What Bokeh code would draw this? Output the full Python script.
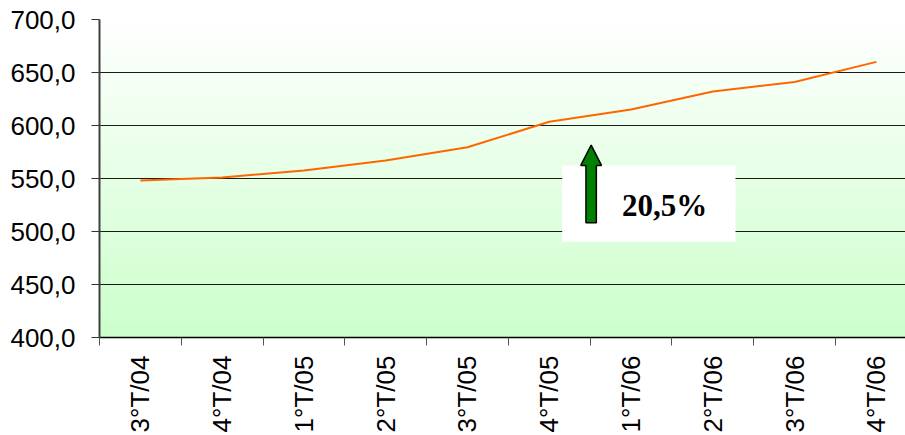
import math
import numpy as np
from bokeh.plotting import figure
from bokeh.models import Range1d, FixedTicker, ColumnDataSource
from bokeh.core.properties import value
from bokeh.embed import file_html
from bokeh.resources import INLINE

# ---- data ----
categories = ["3°T/04", "4°T/04", "1°T/05", "2°T/05", "3°T/05",
              "4°T/05", "1°T/06", "2°T/06", "3°T/06", "4°T/06"]
series_values = [548.0, 551.0, 557.5, 567.0, 579.5, 603.5, 615.0, 632.0, 641.0, 660.0]
y_ticks = [400, 450, 500, 550, 600, 650, 700]
y_tick_labels = ["400,0", "450,0", "500,0", "550,0", "600,0", "650,0", "700,0"]
growth_label = "20,5%"

x_pos = list(range(len(categories)))
src = ColumnDataSource(data=dict(x=x_pos, y=series_values, cat=categories))

p = figure(width=905, height=435, output_backend="svg", toolbar_location=None,
           x_range=Range1d(-0.5, 9.356), y_range=Range1d(400, 700),
           min_border_left=99, min_border_right=0, min_border_top=19,
           min_border_bottom=97)
p.outline_line_color = None
p.background_fill_color = "white"
p.border_fill_color = "white"

# gradient background (white at top -> light green at bottom)
n = 300
t = np.linspace(0.0, 1.0, n)  # 0 bottom, 1 top
rgba = np.zeros((n, 1, 4), dtype=np.uint8)
rgba[:, 0, 0] = (204 + (255 - 204) * t).astype(np.uint8)
rgba[:, 0, 1] = 255
rgba[:, 0, 2] = (204 + (255 - 204) * t).astype(np.uint8)
rgba[:, 0, 3] = 255
img = rgba.view(dtype=np.uint32).reshape((n, 1))
r_img = p.image_rgba(image=[img], x=-0.5, y=400, dw=10.0, dh=300)
r_img.level = "image"

# grid
p.xgrid.visible = False
p.ygrid.ticker = FixedTicker(ticks=y_ticks)
p.ygrid.grid_line_color = "#1a1a1a"
p.ygrid.grid_line_width = 1

# series line
p.line(x="x", y="y", source=src, line_color="#FF6600", line_width=2)

# annotation box + arrow + label
p.quad(left=[5.158], right=[7.277], bottom=[490.3], top=[562.3],
       fill_color="white", line_color=None)
cx = 5.512
sw = 0.0636
hw = 0.1266
p.patch(x=[cx - sw, cx - sw, cx - hw, cx, cx + hw, cx + sw, cx + sw],
        y=[508.2, 562.3, 562.3, 581.4, 562.3, 562.3, 508.2],
        fill_color="#008000", line_color="black", line_width=1.5)
p.text(x=[6.409], y=[524.5], text=[growth_label],
       text_font=value("Liberation Serif"), text_font_style="bold",
       text_font_size="31px", text_align="center", text_baseline="alphabetic",
       text_color="black")

# x axis
xa = p.xaxis[0]
xa.ticker = FixedTicker(ticks=x_pos, minor_ticks=[i - 0.5 for i in range(len(categories) + 1)])
xa.major_label_overrides = {i: c for i, c in zip(x_pos, categories)}
xa.major_label_orientation = math.pi / 2
xa.major_tick_out = 0
xa.major_tick_in = 0
xa.minor_tick_out = 8
xa.minor_tick_in = 0
xa.minor_tick_line_color = "#555555"
xa.axis_line_color = "black"
xa.axis_line_width = 1.5
xa.major_label_text_font = "Liberation Sans"
xa.major_label_text_font_size = "26px"
xa.major_label_text_color = "black"
xa.major_label_standoff = 10

# y axis
ya = p.yaxis[0]
ya.ticker = FixedTicker(ticks=y_ticks)
ya.major_label_overrides = {t_: l for t_, l in zip(y_ticks, y_tick_labels)}
ya.major_tick_out = 8
ya.major_tick_in = 0
ya.minor_tick_out = 0
ya.minor_tick_in = 0
ya.major_tick_line_color = "#333333"
ya.axis_line_color = "#404040"
ya.axis_line_width = 2
ya.major_label_text_font = "Liberation Sans"
ya.major_label_text_font_size = "26px"
ya.major_label_text_color = "black"
ya.major_label_standoff = 16

open("out.html", "w").write(file_html(p, INLINE))
